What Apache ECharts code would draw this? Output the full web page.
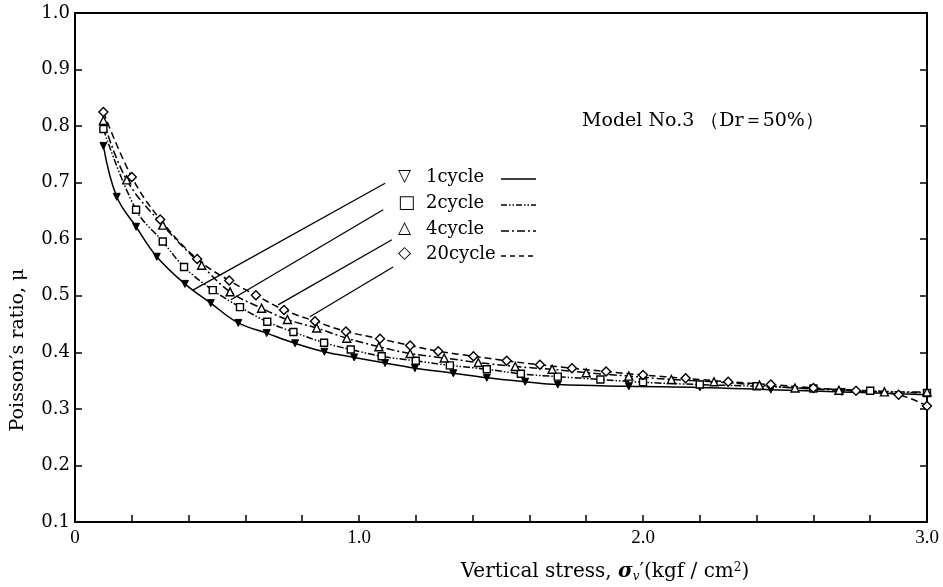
<!DOCTYPE html>
<html>
<head>
<meta charset="utf-8">
<script src="https://cdn.jsdelivr.net/npm/echarts@6/dist/echarts.min.js"></script>
<style>
  html, body { margin: 0; padding: 0; background: #fff; }
  #chart { width: 943px; height: 587px; }
</style>
</head>
<body>
<div id="chart"></div>
<script>
// Vertical stress (kgf/cm2) and Poisson's ratio for each loading cycle
const stress1 = [0.10, 0.147, 0.215, 0.288, 0.387, 0.478, 0.575, 0.675, 0.775, 0.878, 0.983, 1.092, 1.197, 1.332, 1.45, 1.585, 1.70, 1.95, 2.2, 2.45, 2.7, 3.0];
const mu1     = [0.765, 0.675, 0.622, 0.569, 0.521, 0.487, 0.452, 0.434, 0.416, 0.401, 0.391, 0.381, 0.372, 0.363, 0.355, 0.348, 0.343, 0.340, 0.338, 0.334, 0.330, 0.325];

const stress2 = [0.10, 0.215, 0.309, 0.384, 0.485, 0.581, 0.677, 0.769, 0.877, 0.971, 1.08, 1.2, 1.32, 1.45, 1.57, 1.7, 1.85, 2.0, 2.2, 2.4, 2.6, 2.8, 3.0];
const mu2     = [0.795, 0.652, 0.596, 0.551, 0.510, 0.480, 0.454, 0.436, 0.417, 0.405, 0.393, 0.385, 0.377, 0.370, 0.362, 0.357, 0.352, 0.347, 0.343, 0.340, 0.336, 0.332, 0.328];

const stress4 = [0.10, 0.182, 0.309, 0.446, 0.546, 0.657, 0.748, 0.851, 0.957, 1.07, 1.18, 1.3, 1.42, 1.55, 1.68, 1.8, 1.95, 2.1, 2.25, 2.41, 2.535, 2.69, 2.85, 3.0];
const mu4     = [0.810, 0.705, 0.625, 0.554, 0.507, 0.478, 0.458, 0.443, 0.425, 0.410, 0.398, 0.390, 0.382, 0.375, 0.370, 0.364, 0.358, 0.352, 0.348, 0.342, 0.337, 0.333, 0.330, 0.330];

const stress20 = [0.10, 0.2, 0.3, 0.43, 0.543, 0.637, 0.736, 0.845, 0.954, 1.074, 1.18, 1.279, 1.403, 1.52, 1.637, 1.75, 1.87, 2.0, 2.15, 2.3, 2.45, 2.6, 2.75, 2.9, 3.0];
const mu20     = [0.825, 0.710, 0.635, 0.565, 0.527, 0.501, 0.475, 0.455, 0.437, 0.424, 0.412, 0.402, 0.393, 0.385, 0.378, 0.372, 0.366, 0.360, 0.354, 0.348, 0.343, 0.337, 0.332, 0.325, 0.305];

// Leader lines from the key entries down to their curves: [stress, mu] pairs
const leader1  = [[0.415, 0.510], [1.092, 0.699]];
const leader2  = [[0.549, 0.493], [1.085, 0.652]];
const leader4  = [[0.715, 0.484], [1.116, 0.599]];
const leader20 = [[0.827, 0.463], [1.120, 0.551]];

const cycleNames = ['1cycle', '2cycle', '4cycle', '20cycle'];

const SERIF = '"Liberation Serif", "DejaVu Serif", serif';
const WIDE = '"DejaVu Serif", "Liberation Serif", serif';

function pairs(xs, ys) { return xs.map((x, i) => [x, ys[i]]); }
function leader(seg) {
  return [{ coord: seg[0] }, { coord: seg[1] }];
}

const chart = echarts.init(document.getElementById('chart'), null, { renderer: 'canvas' });

const lineBase = { color: '#000', width: 1.5 };
const hollow = { color: '#fff', borderColor: '#000', borderWidth: 1.4 };

const option = {
  animation: false,
  backgroundColor: '#fff',
  grid: { left: 75, right: 16, top: 13, bottom: 65, show: true, borderColor: '#000', borderWidth: 2 },
  xAxis: {
    type: 'value', min: 0, max: 3, interval: 0.2,
    axisLine: { lineStyle: { color: '#000', width: 2 } },
    axisTick: { inside: true, length: 7, lineStyle: { color: '#000', width: 1.5 } },
    splitLine: { show: false },
    axisLabel: {
      color: '#000', fontFamily: SERIF, fontSize: 19, margin: 7,
      formatter: v => Math.abs(v - Math.round(v)) < 1e-6 ? (Math.round(v) === 0 ? '0' : v.toFixed(1)) : ''
    }
  },
  yAxis: [{
    type: 'value', min: 0.1, max: 1.0, interval: 0.1,
    axisLine: { show: true, lineStyle: { color: '#000', width: 2 } },
    axisTick: { show: true, inside: true, length: 7, lineStyle: { color: '#000', width: 1.5 } },
    splitLine: { show: false },
    axisLabel: { color: '#000', fontFamily: WIDE, fontSize: 18, margin: 5, formatter: v => v.toFixed(1) }
  }, {
    type: 'value', min: 0.1, max: 1.0, interval: 0.1, position: 'right',
    axisLine: { show: true, lineStyle: { color: '#000', width: 2 } },
    axisTick: { show: true, inside: true, length: 7, lineStyle: { color: '#000', width: 1.5 } },
    splitLine: { show: false },
    axisLabel: { show: false }
  }],
  series: [
    {
      name: cycleNames[0], type: 'line', smooth: 0.4, data: pairs(stress1, mu1),
      symbol: 'triangle', symbolRotate: 180, symbolSize: 7,
      lineStyle: Object.assign({}, lineBase),
      itemStyle: { color: '#000', borderColor: '#000' },
      markLine: {
        silent: true, symbol: 'none', label: { show: false },
        lineStyle: { color: '#000', width: 1.3, type: 'solid' },
        data: [leader(leader1), leader(leader2), leader(leader4), leader(leader20)]
      }
    },
    {
      name: cycleNames[1], type: 'line', smooth: 0.4, data: pairs(stress2, mu2),
      symbol: 'rect', symbolSize: 7,
      lineStyle: Object.assign({}, lineBase, { type: [7, 2, 1.5, 2, 1.5, 2] }),
      itemStyle: hollow
    },
    {
      name: cycleNames[2], type: 'line', smooth: 0.4, data: pairs(stress4, mu4),
      symbol: 'triangle', symbolSize: 8,
      lineStyle: Object.assign({}, lineBase, { type: [8, 3, 2, 3] }),
      itemStyle: hollow
    },
    {
      name: cycleNames[3], type: 'line', smooth: 0.4, data: pairs(stress20, mu20),
      symbol: 'diamond', symbolSize: 9,
      lineStyle: Object.assign({}, lineBase, { type: [7, 4] }),
      itemStyle: hollow
    }
  ],
  graphic: [
    // axis titles
    {
      type: 'text', x: 18, y: 350, rotation: Math.PI / 2,
      style: { text: 'Poisson′s ratio, μ', font: '19px ' + WIDE, fill: '#000', textAlign: 'center', textVerticalAlign: 'middle' }
    },
    {
      type: 'text', x: 605, y: 572,
      style: {
        text: 'Vertical stress, {s|σ}{sub|v}′(kgf / cm{sup|2})',
        font: '20px ' + WIDE, fill: '#000', textAlign: 'center', textVerticalAlign: 'middle',
        rich: {
          s: { font: 'italic bold 20px ' + WIDE, fill: '#000' },
          sub: { font: 'italic 12px ' + WIDE, fill: '#000', verticalAlign: 'bottom', padding: [9, 0, 0, 0] },
          sup: { font: '12px ' + WIDE, fill: '#000', verticalAlign: 'top', padding: [0, 0, 9, 0] }
        }
      }
    },
    { type: 'text', left: 582, top: 112, style: { text: 'Model No.3 （Dr＝50%）', font: '19px ' + WIDE, fill: '#000' } },
    // key: symbol, label and line sample for each cycle
    { type: 'text', left: 398, top: 168, style: { text: '▽', font: '17px "DejaVu Sans"', fill: '#000' } },
    { type: 'text', left: 426, top: 168, style: { text: cycleNames[0], font: '18px ' + WIDE, fill: '#000' } },
    { type: 'line', shape: { x1: 501, y1: 179, x2: 536, y2: 179 }, style: { stroke: '#000', lineWidth: 1.6 } },

    { type: 'text', left: 398, top: 194, style: { text: '□', font: '18px "DejaVu Sans"', fill: '#000' } },
    { type: 'text', left: 426, top: 194, style: { text: cycleNames[1], font: '18px ' + WIDE, fill: '#000' } },
    { type: 'line', shape: { x1: 501, y1: 205, x2: 536, y2: 205 }, style: { stroke: '#000', lineWidth: 1.4, lineDash: [6, 2, 1.5, 2, 1.5, 2] } },

    { type: 'text', left: 398, top: 220, style: { text: '△', font: '17px "DejaVu Sans"', fill: '#000' } },
    { type: 'text', left: 426, top: 220, style: { text: cycleNames[2], font: '18px ' + WIDE, fill: '#000' } },
    { type: 'line', shape: { x1: 501, y1: 231, x2: 536, y2: 231 }, style: { stroke: '#000', lineWidth: 1.4, lineDash: [8, 3, 2, 3] } },

    { type: 'text', left: 398, top: 245, style: { text: '◇', font: '17px "DejaVu Sans"', fill: '#000' } },
    { type: 'text', left: 426, top: 245, style: { text: cycleNames[3], font: '18px ' + WIDE, fill: '#000' } },
    { type: 'line', shape: { x1: 501, y1: 256, x2: 536, y2: 256 }, style: { stroke: '#000', lineWidth: 1.4, lineDash: [5, 4] } }
  ]
};

chart.setOption(option);
</script>
</body>
</html>
